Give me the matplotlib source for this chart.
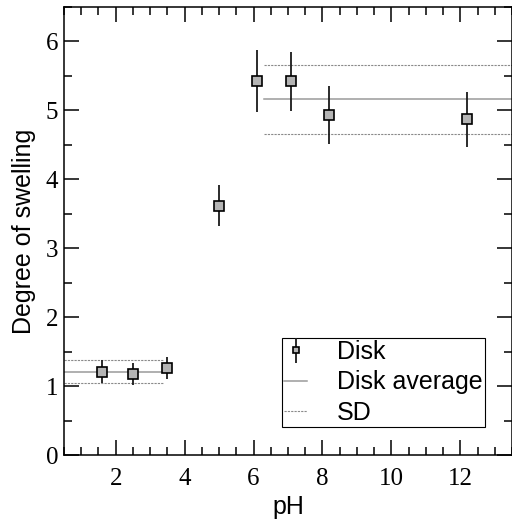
import matplotlib
matplotlib.use("Agg")
import matplotlib.pyplot as plt
from matplotlib.ticker import MultipleLocator

# measured points
ph: list[float] = [1.6, 2.5, 3.5, 5.0, 6.1, 7.1, 8.2, 12.2]
swelling: list[float] = [1.21, 1.18, 1.26, 3.62, 5.42, 5.42, 4.94, 4.87]
swelling_err: list[float] = [0.17, 0.16, 0.16, 0.30, 0.45, 0.43, 0.42, 0.40]

# averages (low pH / high pH groups)
low_range: list[float] = [0.5, 3.4]
low_mean: float = 1.21
low_sd: float = 0.165
high_range: list[float] = [6.3, 13.5]
high_mean: float = 5.16
high_sd: float = 0.50

sans = "Liberation Sans"
serif = "Liberation Serif"

fig = plt.figure(figsize=(5.12, 5.22), dpi=100)
ax = fig.add_axes([0.125, 0.128, 0.875, 0.8586])

avg_kw = dict(color="#9a9a9a", lw=1.1)
sd_kw = dict(color="#8a8a8a", lw=0.8, linestyle=(0, (2, 1)))

for rng, m, sd in [(low_range, low_mean, low_sd), (high_range, high_mean, high_sd)]:
    ax.plot(rng, [m, m], label="Disk average" if rng is low_range else None, **avg_kw)
    ax.plot(rng, [m + sd, m + sd], label="SD" if rng is low_range else None, **sd_kw)
    ax.plot(rng, [m - sd, m - sd], **sd_kw)

ax.errorbar(ph, swelling, yerr=swelling_err, fmt="s", ms=7.5, mfc="#b4b4b4",
            mec="black", mew=1.2, ecolor="#1a1a1a", elinewidth=1.3, capsize=0,
            label="Disk", zorder=5)

ax.set_xlim(0.5, 13.5)
ax.set_ylim(0, 6.5)
ax.xaxis.set_major_locator(MultipleLocator(2))
ax.xaxis.set_minor_locator(MultipleLocator(0.5))
ax.yaxis.set_major_locator(MultipleLocator(1))
ax.yaxis.set_minor_locator(MultipleLocator(0.5))
ax.tick_params(which="both", direction="in", top=True, right=True, width=1.1)
ax.tick_params(which="major", length=11)
ax.tick_params(which="minor", length=5.5)
ax.tick_params(axis="x", pad=9)
ax.tick_params(axis="y", pad=4)
for lbl in ax.get_xticklabels() + ax.get_yticklabels():
    lbl.set_fontfamily(serif)
    lbl.set_fontsize(18)
for s in ax.spines.values():
    s.set_linewidth(1.1)

ax.set_xlabel("pH", fontfamily=sans, fontsize=18, labelpad=4)
ax.set_ylabel("Degree of swelling", fontfamily=sans, fontsize=18, labelpad=7)

handles, labels = ax.get_legend_handles_labels()
order = [labels.index(k) for k in ["Disk", "Disk average", "SD"]]
leg = ax.legend([handles[i] for i in order], [labels[i] for i in order],
                loc="lower right", bbox_to_anchor=(0.94, 0.0625), borderaxespad=0,
                prop={"family": sans, "size": 18}, fancybox=False, framealpha=1,
                edgecolor="black", handlelength=0.9, handletextpad=1.2,
                markerscale=0.6, borderpad=0.1, labelspacing=0.25)
leg.get_frame().set_linewidth(0.8)

fig.savefig("out.png", dpi=100)
